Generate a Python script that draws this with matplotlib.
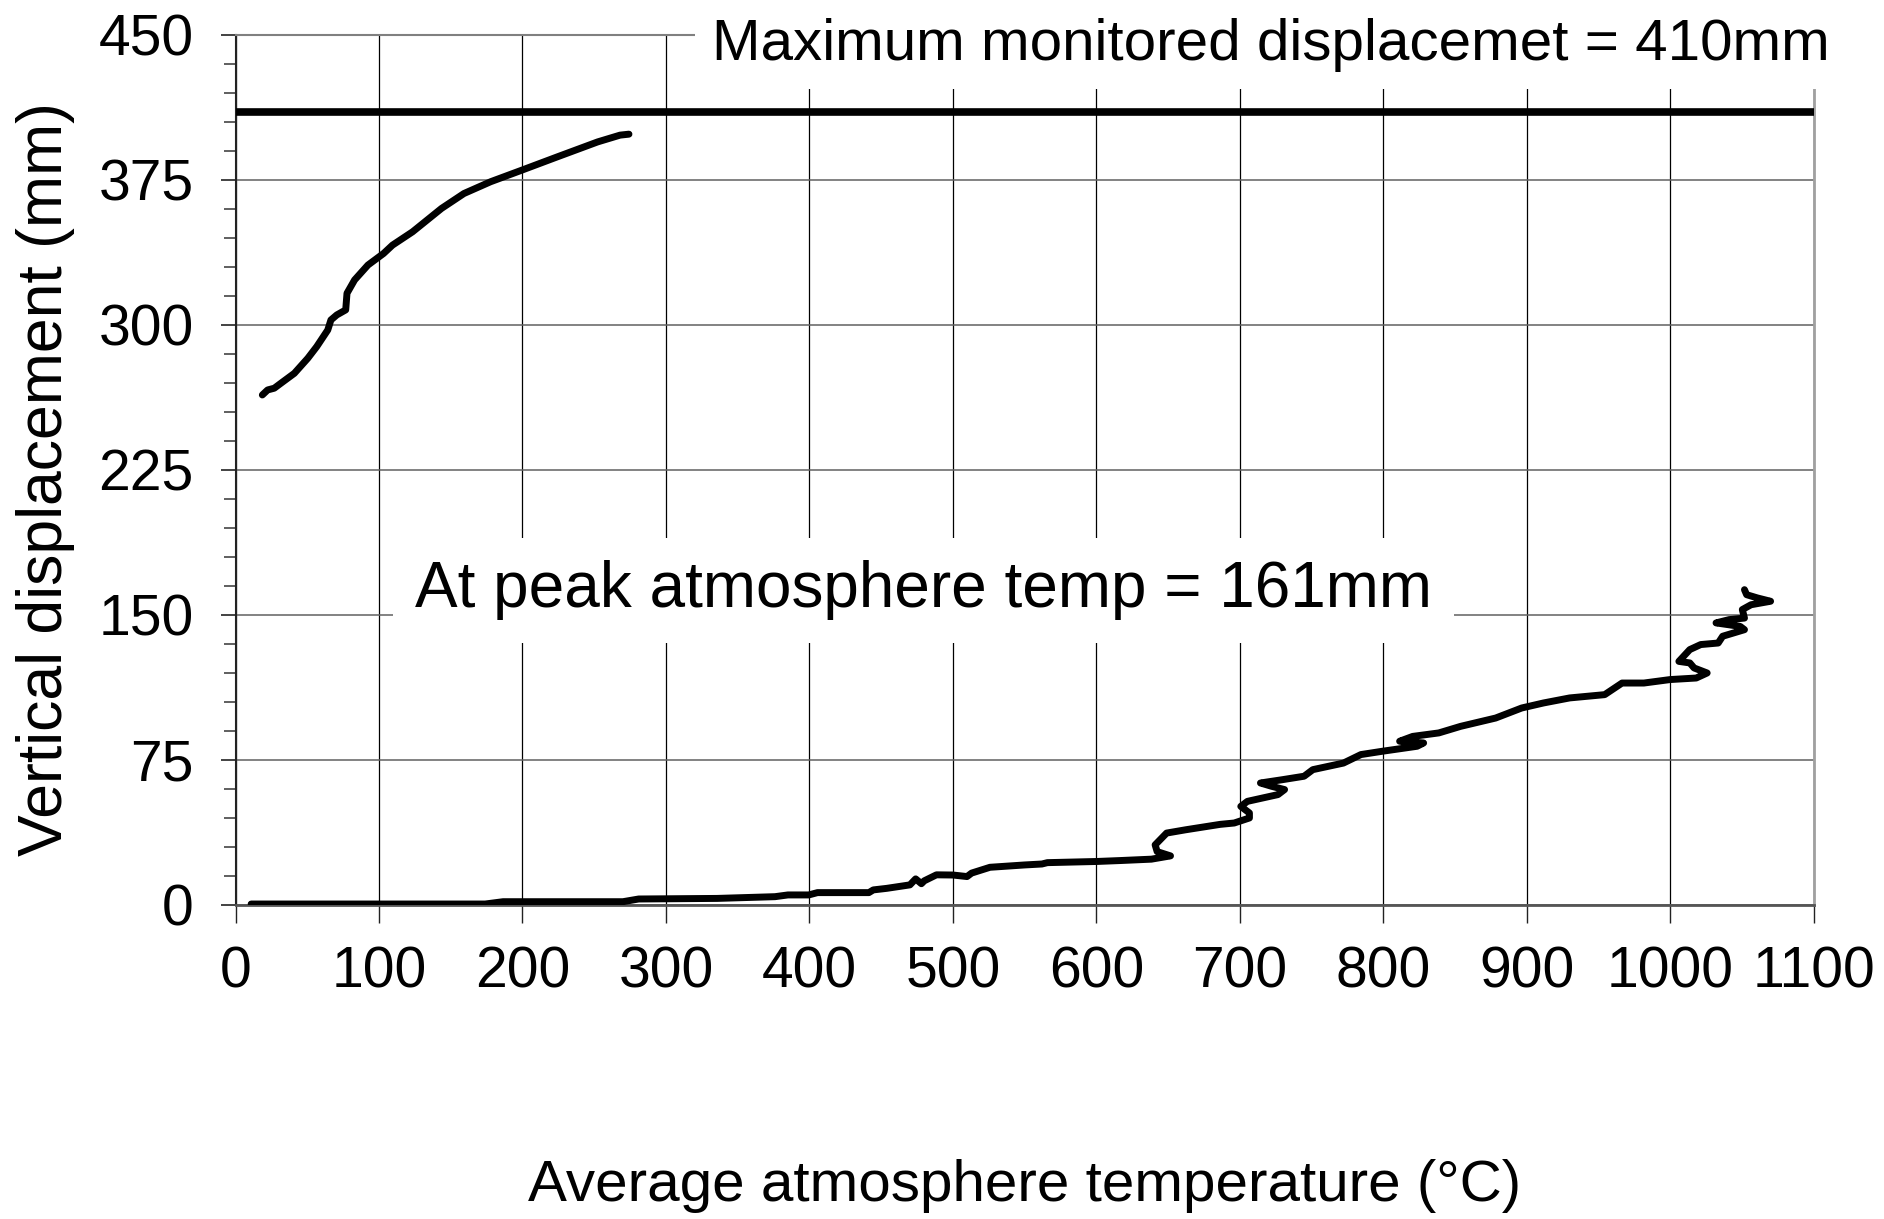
import numpy as np
import matplotlib
matplotlib.use("Agg")
import matplotlib.pyplot as plt
from matplotlib.ticker import MultipleLocator

plt.rcParams['font.family'] = ['Liberation Sans', 'DejaVu Sans']

# ---- data ----
# early part of the record (upper curve)
temp_a = [18.7, 22.4, 27, 31.7, 41, 50.4, 56.6, 64.3, 66.5, 70.6, 76.8, 77.7, 83,
          92.3, 103.2, 109.4, 123.4, 143.6, 159.2, 177.8, 199.6, 224.4, 252.4, 268, 274.2]
disp_a = [263.8, 266.4, 267.3, 269.9, 275, 282.8, 288.8, 297.4, 302.6, 305.2, 307.8,
          316.4, 323.3, 331, 337, 341.3, 348.2, 360.3, 368, 374.1, 380.1, 387, 394.7,
          398.2, 398.7]

# fire record (lower curve)
temp_b = [10.9, 174, 186.5, 270, 281, 335.7, 376, 385, 399.5, 405.6, 441.4, 444.5,
          453.8, 470, 474, 478, 480, 488.5, 500, 509.8, 513, 525.8, 549.8, 562, 565.8,
          600, 617, 638.3, 651.6, 642.3, 640.9, 648.9, 662.2, 686.2, 696, 706.6, 706.6,
          700.6, 705.2, 726.5, 731.1, 722, 714.3, 729.5, 744.7, 750.8, 772.1, 784.3,
          799.1, 823.5, 828, 811.3, 820.4, 838.6, 853.8, 878.2, 896.4, 911.6, 929.8,
          954.2, 966.3, 981.5, 999.8, 1018, 1025.6, 1016.5, 1013.5, 1005.9, 1013.5,
          1021.1, 1033.3, 1036.4, 1051.6, 1048.6, 1031.8, 1040.9, 1051.6, 1050.1,
          1056.2, 1069.8, 1060.7, 1053.1, 1051.6]
disp_b = [0.5, 0.5, 1.7, 1.7, 3.1, 3.4, 4.3, 5.2, 5.2, 6.4, 6.4, 7.8,
          8.6, 10.4, 13.5, 11, 12.5, 15.6, 15.5, 14.7, 16.5, 19.5, 20.7, 21.2, 21.9,
          22.5, 23, 23.7, 25.4, 27.6, 31.1, 37.2, 38.9, 41.7, 42.4, 45, 47.6,
          51, 53.6, 57.1, 59.7, 61.4, 63.1, 64.8, 66.6, 70, 73.4, 77.8,
          79.5, 82.1, 83.8, 84.7, 87.2, 89, 92.4, 96.7, 101.9, 104.5, 107.1,
          108.8, 114.8, 114.8, 116.6, 117.4, 120, 122.6, 125.2, 126, 132.1,
          134.7, 135.5, 139, 142.4, 144.1, 145.9, 147.6, 148.4, 152.8,
          155.3, 157.1, 158.8, 160.5, 163.1]

max_disp = 410
peak_disp = 161

x_ticks = list(range(0, 1101, 100))
y_ticks = list(range(0, 451, 75))

fig = plt.figure(figsize=(18.84, 12.19), dpi=100)
ax = fig.add_axes([0.125, 0.2576, 0.8378, 0.7137])

ax.plot(temp_a, disp_a, color='black', lw=5, solid_capstyle='round', solid_joinstyle='round', zorder=4)
ax.plot(temp_b, disp_b, color='black', lw=5, solid_capstyle='round', solid_joinstyle='round', zorder=4)
ax.axhline(max_disp, color='black', lw=5.5, zorder=4)

ax.set_xlim(0, 1100)
ax.set_ylim(0, 450)
ax.set_xticks(x_ticks)
ax.set_yticks(y_ticks)
ax.yaxis.set_minor_locator(MultipleLocator(15))

ax.set_axisbelow(True)
ax.grid(axis='x', which='major', color='black', lw=0.9)
ax.grid(axis='y', which='major', color='#606060', lw=1.1)

ax.spines['left'].set_color('#222222')
ax.spines['left'].set_linewidth(1.5)
ax.spines['bottom'].set_color('#555555')
ax.spines['bottom'].set_linewidth(2)
ax.spines['right'].set_color('#a0a0a0')
ax.spines['right'].set_linewidth(2)
ax.spines['top'].set_color('#808080')
ax.spines['top'].set_linewidth(1.5)

ax.tick_params(axis='x', which='major', length=13, width=1, pad=16, labelsize=41, color='#222222')
ax.tick_params(axis='y', which='major', length=11, width=1.2, pad=19, labelsize=41, color='#222222')
ax.tick_params(axis='y', which='minor', length=9, width=1.2, color='#444444')

ax.set_xlabel('Average atmosphere temperature (°C)', fontsize=42)
ax.xaxis.set_label_coords(0.5, -0.292)
ax.set_ylabel('Vertical displacement (mm)', fontsize=45)
ax.yaxis.set_label_coords(-0.102, 0.49)

ax.text(332, 437, 'Maximum monitored displacemet = %dmm' % max_disp, fontsize=42,
        ha='left', va='baseline', zorder=10, clip_on=False,
        bbox=dict(facecolor='white', edgecolor='none', pad=12))
ax.text(125, 154, 'At peak atmosphere temp = %dmm' % peak_disp, fontsize=46,
        ha='left', va='baseline', zorder=10, clip_on=False,
        bbox=dict(facecolor='white', edgecolor='none', pad=16))

fig.savefig('out.png', dpi=100)
